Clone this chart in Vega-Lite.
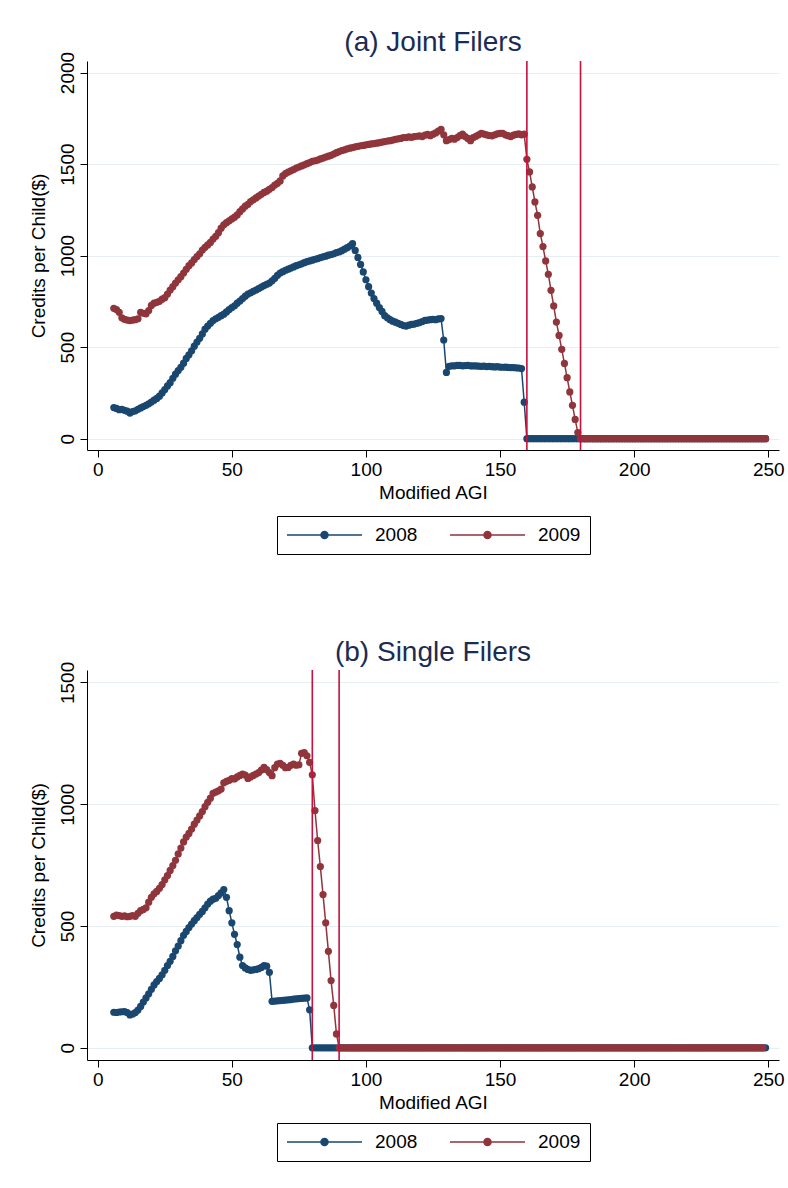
{
"$schema": "https://vega.github.io/schema/vega-lite/v6.json",
"background": "white",
"padding": {"left": 29, "top": 29, "right": 0, "bottom": 0},
"spacing": 84,
"resolve": {"scale": {"color": "independent"}, "legend": {"color": "independent"}},
"config": {
 "font": "Liberation Sans",
 "view": {"stroke": null},
 "title": {"fontSize": 28, "fontWeight": "normal", "color": "#1c2b54", "anchor": "middle", "frame": "group", "offset": -6},
 "axis": {"labelFontSize": 19, "labelColor": "black", "titleFontSize": 19, "titleFontWeight": "normal", "titleColor": "black", "domainColor": "black", "tickColor": "black", "tickSize": 7, "gridColor": "#e6eef1", "labelFlush": false},
 "axisX": {"grid": false, "labelPadding": 3, "titlePadding": 4},
 "axisY": {"grid": true, "labelAngle": -90, "labelPadding": 3, "titlePadding": 10, "format": "d"}
},
"datasets": {
"a": [
{"x":6,"a":170,"b":712},{"x":7,"a":165,"b":705},{"x":8,"a":158,"b":690},{"x":9,"a":160,"b":660},{"x":10,"a":155,"b":652},{"x":11,"a":150,"b":648},{"x":12,"a":140,"b":645},{"x":13,"a":148,"b":648},{"x":14,"a":152,"b":650},{"x":15,"a":160,"b":655},
{"x":16,"a":168,"b":690},{"x":17,"a":175,"b":685},{"x":18,"a":182,"b":682},{"x":19,"a":190,"b":700},{"x":20,"a":200,"b":728},{"x":21,"a":210,"b":740},{"x":22,"a":220,"b":745},{"x":23,"a":232,"b":750},{"x":24,"a":250,"b":762},{"x":25,"a":268,"b":770},
{"x":26,"a":288,"b":790},{"x":27,"a":306,"b":812},{"x":28,"a":330,"b":830},{"x":29,"a":352,"b":850},{"x":30,"a":372,"b":868},{"x":31,"a":390,"b":885},{"x":32,"a":412,"b":905},{"x":33,"a":438,"b":925},{"x":34,"a":458,"b":945},{"x":35,"a":480,"b":960},
{"x":36,"a":505,"b":978},{"x":37,"a":528,"b":995},{"x":38,"a":548,"b":1010},{"x":39,"a":572,"b":1030},{"x":40,"a":598,"b":1045},{"x":41,"a":615,"b":1058},{"x":42,"a":630,"b":1072},{"x":43,"a":645,"b":1090},{"x":44,"a":655,"b":1105},{"x":45,"a":663,"b":1125},
{"x":46,"a":672,"b":1150},{"x":47,"a":680,"b":1168},{"x":48,"a":692,"b":1180},{"x":49,"a":705,"b":1190},{"x":50,"a":716,"b":1200},{"x":51,"a":726,"b":1210},{"x":52,"a":740,"b":1222},{"x":53,"a":752,"b":1240},{"x":54,"a":765,"b":1255},{"x":55,"a":778,"b":1270},
{"x":56,"a":790,"b":1280},{"x":57,"a":797,"b":1295},{"x":58,"a":805,"b":1305},{"x":59,"a":812,"b":1315},{"x":60,"a":820,"b":1325},{"x":61,"a":828,"b":1335},{"x":62,"a":836,"b":1345},{"x":63,"a":843,"b":1352},{"x":64,"a":850,"b":1362},{"x":65,"a":862,"b":1372},
{"x":66,"a":876,"b":1385},{"x":67,"a":892,"b":1395},{"x":68,"a":905,"b":1408},{"x":69,"a":912,"b":1435},{"x":70,"a":920,"b":1448},{"x":71,"a":926,"b":1456},{"x":72,"a":932,"b":1463},{"x":73,"a":938,"b":1470},{"x":74,"a":945,"b":1478},{"x":75,"a":950,"b":1484},
{"x":76,"a":955,"b":1490},{"x":77,"a":961,"b":1496},{"x":78,"a":967,"b":1502},{"x":79,"a":971,"b":1508},{"x":80,"a":975,"b":1515},{"x":81,"a":980,"b":1518},{"x":82,"a":984,"b":1522},{"x":83,"a":989,"b":1528},{"x":84,"a":993,"b":1533},{"x":85,"a":997,"b":1538},
{"x":86,"a":1002,"b":1543},{"x":87,"a":1006,"b":1548},{"x":88,"a":1010,"b":1555},{"x":89,"a":1016,"b":1562},{"x":90,"a":1020,"b":1568},{"x":91,"a":1027,"b":1574},{"x":92,"a":1035,"b":1578},{"x":93,"a":1043,"b":1583},{"x":94,"a":1052,"b":1587},{"x":95,"a":1065,"b":1590},
{"x":96,"a":1028,"b":1594},{"x":97,"a":990,"b":1597},{"x":98,"a":952,"b":1600},{"x":99,"a":911,"b":1602},{"x":100,"a":868,"b":1605},{"x":101,"a":830,"b":1607},{"x":102,"a":795,"b":1610},{"x":103,"a":765,"b":1612},{"x":104,"a":740,"b":1614},{"x":105,"a":716,"b":1617},
{"x":106,"a":695,"b":1620},{"x":107,"a":672,"b":1623},{"x":108,"a":660,"b":1626},{"x":109,"a":650,"b":1628},{"x":110,"a":642,"b":1631},{"x":111,"a":636,"b":1635},{"x":112,"a":630,"b":1638},{"x":113,"a":624,"b":1640},{"x":114,"a":618,"b":1645},{"x":115,"a":615,"b":1645},
{"x":116,"a":620,"b":1648},{"x":117,"a":624,"b":1646},{"x":118,"a":626,"b":1650},{"x":119,"a":630,"b":1652},{"x":120,"a":634,"b":1654},{"x":121,"a":640,"b":1650},{"x":122,"a":646,"b":1658},{"x":123,"a":648,"b":1662},{"x":124,"a":650,"b":1655},{"x":125,"a":652,"b":1663},
{"x":126,"a":650,"b":1670},{"x":127,"a":654,"b":1680},{"x":128,"a":656,"b":1690},{"x":129,"a":539,"b":1660},{"x":130,"a":362,"b":1628},{"x":131,"a":395,"b":1634},{"x":132,"a":398,"b":1640},{"x":133,"a":398,"b":1636},{"x":134,"a":400,"b":1645},{"x":135,"a":400,"b":1655},
{"x":136,"a":398,"b":1663},{"x":137,"a":399,"b":1650},{"x":138,"a":400,"b":1640},{"x":139,"a":398,"b":1628},{"x":140,"a":397,"b":1645},{"x":141,"a":398,"b":1652},{"x":142,"a":396,"b":1660},{"x":143,"a":395,"b":1668},{"x":144,"a":396,"b":1664},{"x":145,"a":394,"b":1660},
{"x":146,"a":395,"b":1656},{"x":147,"a":393,"b":1654},{"x":148,"a":392,"b":1660},{"x":149,"a":393,"b":1665},{"x":150,"a":391,"b":1668},{"x":151,"a":390,"b":1668},{"x":152,"a":391,"b":1660},{"x":153,"a":389,"b":1655},{"x":154,"a":388,"b":1650},{"x":155,"a":388,"b":1658},
{"x":156,"a":387,"b":1662},{"x":157,"a":386,"b":1665},{"x":158,"a":383,"b":1660},{"x":159,"a":199,"b":1663},{"x":160,"a":0,"b":1526},{"x":161,"a":0,"b":1457},{"x":162,"a":0,"b":1375},{"x":163,"a":0,"b":1293},{"x":164,"a":0,"b":1220},{"x":165,"a":0,"b":1120},
{"x":166,"a":0,"b":1049},{"x":167,"a":0,"b":971},{"x":168,"a":0,"b":898},{"x":169,"a":0,"b":810},{"x":170,"a":0,"b":725},{"x":171,"a":0,"b":637},{"x":172,"a":0,"b":564},{"x":173,"a":0,"b":488},{"x":174,"a":0,"b":411},{"x":175,"a":0,"b":333},
{"x":176,"a":0,"b":255},{"x":177,"a":0,"b":182},{"x":178,"a":0,"b":105},{"x":179,"a":0,"b":33},{"x":180,"a":0,"b":0},{"x":181,"a":0,"b":0},{"x":182,"a":0,"b":0},{"x":183,"a":0,"b":0},{"x":184,"a":0,"b":0},{"x":185,"a":0,"b":0},
{"x":186,"a":0,"b":0},{"x":187,"a":0,"b":0},{"x":188,"a":0,"b":0},{"x":189,"a":0,"b":0},{"x":190,"a":0,"b":0},{"x":191,"a":0,"b":0},{"x":192,"a":0,"b":0},{"x":193,"a":0,"b":0},{"x":194,"a":0,"b":0},{"x":195,"a":0,"b":0},
{"x":196,"a":0,"b":0},{"x":197,"a":0,"b":0},{"x":198,"a":0,"b":0},{"x":199,"a":0,"b":0},{"x":200,"a":0,"b":0},{"x":201,"a":0,"b":0},{"x":202,"a":0,"b":0},{"x":203,"a":0,"b":0},{"x":204,"a":0,"b":0},{"x":205,"a":0,"b":0},
{"x":206,"a":0,"b":0},{"x":207,"a":0,"b":0},{"x":208,"a":0,"b":0},{"x":209,"a":0,"b":0},{"x":210,"a":0,"b":0},{"x":211,"a":0,"b":0},{"x":212,"a":0,"b":0},{"x":213,"a":0,"b":0},{"x":214,"a":0,"b":0},{"x":215,"a":0,"b":0},
{"x":216,"a":0,"b":0},{"x":217,"a":0,"b":0},{"x":218,"a":0,"b":0},{"x":219,"a":0,"b":0},{"x":220,"a":0,"b":0},{"x":221,"a":0,"b":0},{"x":222,"a":0,"b":0},{"x":223,"a":0,"b":0},{"x":224,"a":0,"b":0},{"x":225,"a":0,"b":0},
{"x":226,"a":0,"b":0},{"x":227,"a":0,"b":0},{"x":228,"a":0,"b":0},{"x":229,"a":0,"b":0},{"x":230,"a":0,"b":0},{"x":231,"a":0,"b":0},{"x":232,"a":0,"b":0},{"x":233,"a":0,"b":0},{"x":234,"a":0,"b":0},{"x":235,"a":0,"b":0},
{"x":236,"a":0,"b":0},{"x":237,"a":0,"b":0},{"x":238,"a":0,"b":0},{"x":239,"a":0,"b":0},{"x":240,"a":0,"b":0},{"x":241,"a":0,"b":0},{"x":242,"a":0,"b":0},{"x":243,"a":0,"b":0},{"x":244,"a":0,"b":0},{"x":245,"a":0,"b":0},
{"x":246,"a":0,"b":0},{"x":247,"a":0,"b":0},{"x":248,"a":0,"b":0},{"x":249,"a":0,"b":0}
],
"b": [
{"x":6,"a":146,"b":540},{"x":7,"a":145,"b":545},{"x":8,"a":147,"b":543},{"x":9,"a":148,"b":540},{"x":10,"a":149,"b":542},{"x":11,"a":145,"b":538},{"x":12,"a":135,"b":540},{"x":13,"a":138,"b":543},{"x":14,"a":145,"b":540},{"x":15,"a":155,"b":552},
{"x":16,"a":170,"b":563},{"x":17,"a":188,"b":568},{"x":18,"a":205,"b":575},{"x":19,"a":222,"b":598},{"x":20,"a":240,"b":618},{"x":21,"a":258,"b":632},{"x":22,"a":272,"b":642},{"x":23,"a":285,"b":655},{"x":24,"a":300,"b":670},{"x":25,"a":318,"b":690},
{"x":26,"a":338,"b":707},{"x":27,"a":355,"b":728},{"x":28,"a":375,"b":748},{"x":29,"a":398,"b":770},{"x":30,"a":418,"b":796},{"x":31,"a":440,"b":820},{"x":32,"a":462,"b":845},{"x":33,"a":478,"b":865},{"x":34,"a":494,"b":880},{"x":35,"a":508,"b":898},
{"x":36,"a":522,"b":918},{"x":37,"a":535,"b":935},{"x":38,"a":548,"b":952},{"x":39,"a":560,"b":970},{"x":40,"a":575,"b":990},{"x":41,"a":590,"b":1008},{"x":42,"a":602,"b":1025},{"x":43,"a":610,"b":1045},{"x":44,"a":614,"b":1050},{"x":45,"a":625,"b":1055},
{"x":46,"a":636,"b":1062},{"x":47,"a":650,"b":1088},{"x":48,"a":618,"b":1094},{"x":49,"a":563,"b":1098},{"x":50,"a":513,"b":1105},{"x":51,"a":466,"b":1104},{"x":52,"a":424,"b":1112},{"x":53,"a":372,"b":1118},{"x":54,"a":338,"b":1124},{"x":55,"a":328,"b":1120},
{"x":56,"a":322,"b":1106},{"x":57,"a":318,"b":1112},{"x":58,"a":320,"b":1118},{"x":59,"a":322,"b":1124},{"x":60,"a":325,"b":1130},{"x":61,"a":330,"b":1140},{"x":62,"a":338,"b":1151},{"x":63,"a":335,"b":1142},{"x":64,"a":310,"b":1130},{"x":65,"a":191,"b":1117},
{"x":66,"a":192,"b":1150},{"x":67,"a":193,"b":1165},{"x":68,"a":194,"b":1168},{"x":69,"a":195,"b":1160},{"x":70,"a":196,"b":1150},{"x":71,"a":197,"b":1151},{"x":72,"a":198,"b":1160},{"x":73,"a":200,"b":1165},{"x":74,"a":201,"b":1160},{"x":75,"a":202,"b":1162},
{"x":76,"a":203,"b":1209},{"x":77,"a":204,"b":1212},{"x":78,"a":205,"b":1199},{"x":79,"a":156,"b":1172},{"x":80,"a":0,"b":1121},{"x":81,"a":0,"b":974},{"x":82,"a":0,"b":851},{"x":83,"a":0,"b":744},{"x":84,"a":0,"b":629},{"x":85,"a":0,"b":513},
{"x":86,"a":0,"b":396},{"x":87,"a":0,"b":276},{"x":88,"a":0,"b":174},{"x":89,"a":0,"b":57},{"x":90,"a":0,"b":0},{"x":91,"a":0,"b":0},{"x":92,"a":0,"b":0},{"x":93,"a":0,"b":0},{"x":94,"a":0,"b":0},{"x":95,"a":0,"b":0},
{"x":96,"a":0,"b":0},{"x":97,"a":0,"b":0},{"x":98,"a":0,"b":0},{"x":99,"a":0,"b":0},{"x":100,"a":0,"b":0},{"x":101,"a":0,"b":0},{"x":102,"a":0,"b":0},{"x":103,"a":0,"b":0},{"x":104,"a":0,"b":0},{"x":105,"a":0,"b":0},
{"x":106,"a":0,"b":0},{"x":107,"a":0,"b":0},{"x":108,"a":0,"b":0},{"x":109,"a":0,"b":0},{"x":110,"a":0,"b":0},{"x":111,"a":0,"b":0},{"x":112,"a":0,"b":0},{"x":113,"a":0,"b":0},{"x":114,"a":0,"b":0},{"x":115,"a":0,"b":0},
{"x":116,"a":0,"b":0},{"x":117,"a":0,"b":0},{"x":118,"a":0,"b":0},{"x":119,"a":0,"b":0},{"x":120,"a":0,"b":0},{"x":121,"a":0,"b":0},{"x":122,"a":0,"b":0},{"x":123,"a":0,"b":0},{"x":124,"a":0,"b":0},{"x":125,"a":0,"b":0},
{"x":126,"a":0,"b":0},{"x":127,"a":0,"b":0},{"x":128,"a":0,"b":0},{"x":129,"a":0,"b":0},{"x":130,"a":0,"b":0},{"x":131,"a":0,"b":0},{"x":132,"a":0,"b":0},{"x":133,"a":0,"b":0},{"x":134,"a":0,"b":0},{"x":135,"a":0,"b":0},
{"x":136,"a":0,"b":0},{"x":137,"a":0,"b":0},{"x":138,"a":0,"b":0},{"x":139,"a":0,"b":0},{"x":140,"a":0,"b":0},{"x":141,"a":0,"b":0},{"x":142,"a":0,"b":0},{"x":143,"a":0,"b":0},{"x":144,"a":0,"b":0},{"x":145,"a":0,"b":0},
{"x":146,"a":0,"b":0},{"x":147,"a":0,"b":0},{"x":148,"a":0,"b":0},{"x":149,"a":0,"b":0},{"x":150,"a":0,"b":0},{"x":151,"a":0,"b":0},{"x":152,"a":0,"b":0},{"x":153,"a":0,"b":0},{"x":154,"a":0,"b":0},{"x":155,"a":0,"b":0},
{"x":156,"a":0,"b":0},{"x":157,"a":0,"b":0},{"x":158,"a":0,"b":0},{"x":159,"a":0,"b":0},{"x":160,"a":0,"b":0},{"x":161,"a":0,"b":0},{"x":162,"a":0,"b":0},{"x":163,"a":0,"b":0},{"x":164,"a":0,"b":0},{"x":165,"a":0,"b":0},
{"x":166,"a":0,"b":0},{"x":167,"a":0,"b":0},{"x":168,"a":0,"b":0},{"x":169,"a":0,"b":0},{"x":170,"a":0,"b":0},{"x":171,"a":0,"b":0},{"x":172,"a":0,"b":0},{"x":173,"a":0,"b":0},{"x":174,"a":0,"b":0},{"x":175,"a":0,"b":0},
{"x":176,"a":0,"b":0},{"x":177,"a":0,"b":0},{"x":178,"a":0,"b":0},{"x":179,"a":0,"b":0},{"x":180,"a":0,"b":0},{"x":181,"a":0,"b":0},{"x":182,"a":0,"b":0},{"x":183,"a":0,"b":0},{"x":184,"a":0,"b":0},{"x":185,"a":0,"b":0},
{"x":186,"a":0,"b":0},{"x":187,"a":0,"b":0},{"x":188,"a":0,"b":0},{"x":189,"a":0,"b":0},{"x":190,"a":0,"b":0},{"x":191,"a":0,"b":0},{"x":192,"a":0,"b":0},{"x":193,"a":0,"b":0},{"x":194,"a":0,"b":0},{"x":195,"a":0,"b":0},
{"x":196,"a":0,"b":0},{"x":197,"a":0,"b":0},{"x":198,"a":0,"b":0},{"x":199,"a":0,"b":0},{"x":200,"a":0,"b":0},{"x":201,"a":0,"b":0},{"x":202,"a":0,"b":0},{"x":203,"a":0,"b":0},{"x":204,"a":0,"b":0},{"x":205,"a":0,"b":0},
{"x":206,"a":0,"b":0},{"x":207,"a":0,"b":0},{"x":208,"a":0,"b":0},{"x":209,"a":0,"b":0},{"x":210,"a":0,"b":0},{"x":211,"a":0,"b":0},{"x":212,"a":0,"b":0},{"x":213,"a":0,"b":0},{"x":214,"a":0,"b":0},{"x":215,"a":0,"b":0},
{"x":216,"a":0,"b":0},{"x":217,"a":0,"b":0},{"x":218,"a":0,"b":0},{"x":219,"a":0,"b":0},{"x":220,"a":0,"b":0},{"x":221,"a":0,"b":0},{"x":222,"a":0,"b":0},{"x":223,"a":0,"b":0},{"x":224,"a":0,"b":0},{"x":225,"a":0,"b":0},
{"x":226,"a":0,"b":0},{"x":227,"a":0,"b":0},{"x":228,"a":0,"b":0},{"x":229,"a":0,"b":0},{"x":230,"a":0,"b":0},{"x":231,"a":0,"b":0},{"x":232,"a":0,"b":0},{"x":233,"a":0,"b":0},{"x":234,"a":0,"b":0},{"x":235,"a":0,"b":0},
{"x":236,"a":0,"b":0},{"x":237,"a":0,"b":0},{"x":238,"a":0,"b":0},{"x":239,"a":0,"b":0},{"x":240,"a":0,"b":0},{"x":241,"a":0,"b":0},{"x":242,"a":0,"b":0},{"x":243,"a":0,"b":0},{"x":244,"a":0,"b":0},{"x":245,"a":0,"b":0},
{"x":246,"a":0,"b":0},{"x":247,"a":0,"b":0},{"x":248,"a":0,"b":0},{"x":249,"a":0}
]
},
"vconcat": [
{
 "title": {"text": "(a) Joint Filers"},
 "width": 692, "height": 389,
 "data": {"name": "a"},
 "encoding": {"x": {"field": "x", "type": "quantitative", "scale": {"domain": [-4, 254], "nice": false, "zero": false}, "axis": {"values": [0, 50, 100, 150, 200, 250], "title": "Modified AGI"}}},
 "layer": [
  {"mark": {"type": "line", "strokeWidth": 1.5}, "encoding": {
    "y": {"field": "a", "type": "quantitative", "scale": {"domain": [-62, 2063], "nice": false, "zero": false}, "axis": {"values": [0, 500, 1000, 1500, 2000], "title": "Credits per Child($)"}},
    "color": {"datum": "2008", "type": "nominal", "scale": {"domain": ["2008", "2009"], "range": ["#1a476f", "#90353b"]}, "legend": {"orient": "none", "legendX": 190, "legendY": 455, "direction": "horizontal", "title": null, "symbolType": "M-1,0L1,0M-0.093,0A0.093,0.093,0,1,0,0.093,0A0.093,0.093,0,1,0,-0.093,0", "symbolSize": 5625, "symbolStrokeWidth": 1.5, "clipHeight": 20, "labelFontSize": 19, "labelColor": "black", "labelOffset": 12, "columnPadding": 31, "padding": 9, "strokeColor": "black", "fillColor": "white", "encode": {"symbols": {"update": {"fill": [{"test": "datum.value === '2008'", "value": "#1a476f"}, {"value": "#90353b"}], "opacity": {"value": 1}}}}}}}},
  {"mark": {"type": "point", "filled": true, "size": 52, "opacity": 1}, "encoding": {
    "y": {"field": "a", "type": "quantitative"},
    "color": {"datum": "2008", "type": "nominal"}}},
  {"mark": {"type": "line", "strokeWidth": 1.5}, "encoding": {
    "y": {"field": "b", "type": "quantitative"},
    "color": {"datum": "2009", "type": "nominal"}}},
  {"mark": {"type": "point", "filled": true, "size": 52, "opacity": 1}, "encoding": {
    "y": {"field": "b", "type": "quantitative"},
    "color": {"datum": "2009", "type": "nominal"}}},
  {"data": {"values": [{"x": 160}, {"x": 180}]}, "mark": {"type": "rule", "color": "#c8103c", "strokeWidth": 1.6}, "encoding": {}}
 ]
},
{
 "title": {"text": "(b) Single Filers"},
 "width": 692, "height": 390,
 "data": {"name": "b"},
 "encoding": {"x": {"field": "x", "type": "quantitative", "scale": {"domain": [-4, 254], "nice": false, "zero": false}, "axis": {"values": [0, 50, 100, 150, 200, 250], "title": "Modified AGI"}}},
 "layer": [
  {"mark": {"type": "line", "strokeWidth": 1.5}, "encoding": {
    "y": {"field": "a", "type": "quantitative", "scale": {"domain": [-50, 1551], "nice": false, "zero": false}, "axis": {"values": [0, 500, 1000, 1500], "title": "Credits per Child($)"}},
    "color": {"datum": "2008", "type": "nominal", "scale": {"domain": ["2008", "2009"], "range": ["#1a476f", "#90353b"]}, "legend": {"orient": "none", "legendX": 190, "legendY": 453, "direction": "horizontal", "title": null, "symbolType": "M-1,0L1,0M-0.093,0A0.093,0.093,0,1,0,0.093,0A0.093,0.093,0,1,0,-0.093,0", "symbolSize": 5625, "symbolStrokeWidth": 1.5, "clipHeight": 20, "labelFontSize": 19, "labelColor": "black", "labelOffset": 12, "columnPadding": 31, "padding": 9, "strokeColor": "black", "fillColor": "white", "encode": {"symbols": {"update": {"fill": [{"test": "datum.value === '2008'", "value": "#1a476f"}, {"value": "#90353b"}], "opacity": {"value": 1}}}}}}}},
  {"mark": {"type": "point", "filled": true, "size": 52, "opacity": 1}, "encoding": {
    "y": {"field": "a", "type": "quantitative"},
    "color": {"datum": "2008", "type": "nominal"}}},
  {"mark": {"type": "line", "strokeWidth": 1.5}, "encoding": {
    "y": {"field": "b", "type": "quantitative"},
    "color": {"datum": "2009", "type": "nominal"}}},
  {"mark": {"type": "point", "filled": true, "size": 52, "opacity": 1}, "encoding": {
    "y": {"field": "b", "type": "quantitative"},
    "color": {"datum": "2009", "type": "nominal"}}},
  {"data": {"values": [{"x": 80}, {"x": 90}]}, "mark": {"type": "rule", "color": "#c8103c", "strokeWidth": 1.6}, "encoding": {}}
 ]
}
]
}
